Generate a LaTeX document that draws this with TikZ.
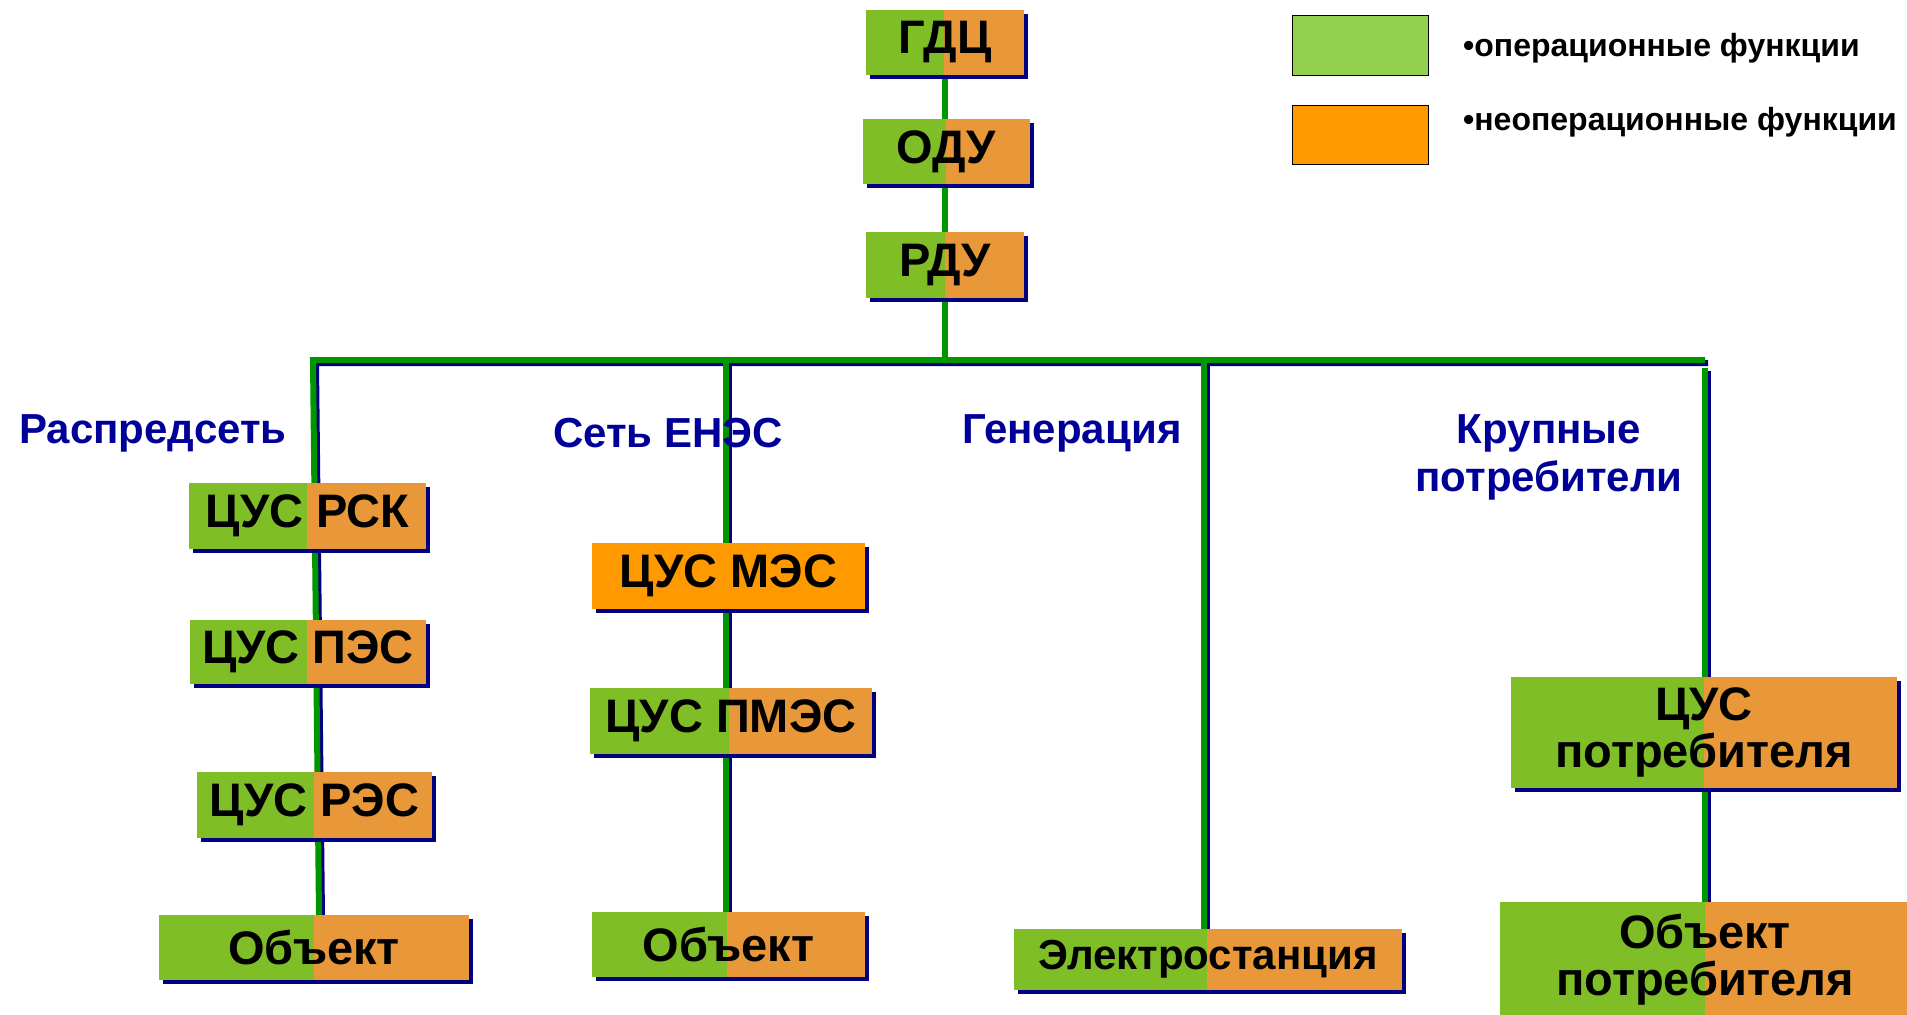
\documentclass[tikz,border=0pt]{standalone}
\usepackage{fontspec}
\setmainfont{Liberation Sans}
\usetikzlibrary{shadows}
\definecolor{bgreen}{RGB}{128,190,40}
\definecolor{borange}{RGB}{232,152,56}
\definecolor{morange}{RGB}{255,153,0}
\definecolor{lgreen}{RGB}{146,208,80}
\definecolor{lineg}{RGB}{0,150,0}
\definecolor{navy}{RGB}{0,0,128}
\definecolor{lblue}{RGB}{0,0,153}
\pgfdeclarelayer{bg}
\pgfsetlayers{bg,main}
\tikzset{
  box/.style={fill=borange, inner sep=0pt, align=center,
    font=\fontsize{47}{47}\selectfont\bfseries,
    drop shadow={shadow xshift=3.5pt, shadow yshift=-3.5pt, fill=navy, opacity=1}},
  gsplit/.style={path picture={\fill[bgreen] (path picture bounding box.north west) rectangle ([xshift=#1]path picture bounding box.south west);}},
  plainconn/.style={line width=6pt, draw=lineg},
  conn/.style={line width=6pt, draw=lineg, line join=miter,
    preaction={draw=navy, line width=6pt, transform canvas={xshift=3pt, yshift=-3pt}}},
  lbl/.style={text=lblue, font=\fontsize{42}{48}\selectfont\bfseries, align=center, inner sep=0pt},
  legbox/.style={draw=black, line width=1pt, inner sep=0pt, minimum width=136pt},
  legtxt/.style={anchor=west, inner sep=0pt, font=\fontsize{32}{36}\selectfont\bfseries}
}
\begin{document}
\begin{tikzpicture}[x=1pt, y=-1pt]
\useasboundingbox (0,0) rectangle (1907,1015);
\clip (0,0) rectangle (1907,1015);

% top chain
\node[box, gsplit=78pt, minimum width=158pt, minimum height=65pt] (gdc) at (945,42.5) {ГДЦ};
\node[box, gsplit=83pt, minimum width=167pt, minimum height=65pt] (odu) at (946.5,151.5) {ОДУ};
\node[box, gsplit=79pt, minimum width=158pt, minimum height=66pt] (rdu) at (945,265) {РДУ};

% left column
\node[box, gsplit=118pt, minimum width=237pt, minimum height=66pt] (rsk) at (307.5,516) {ЦУС РСК};
\node[box, gsplit=117pt, minimum width=236pt, minimum height=64pt] (pes) at (308,652) {ЦУС ПЭС};
\node[box, gsplit=117pt, minimum width=235pt, minimum height=66pt] (res) at (314.5,805) {ЦУС РЭС};
\node[box, gsplit=155pt, minimum width=310pt, minimum height=65pt] (obj1) at (314,947.5) {Объект};

% middle column
\node[box, fill=morange, minimum width=273pt, minimum height=66pt] (mes) at (728.5,576) {ЦУС МЭС};
\node[box, gsplit=139pt, minimum width=282pt, minimum height=66pt] (pmes) at (731,721) {ЦУС ПМЭС};
\node[box, gsplit=135pt, minimum width=273pt, minimum height=65pt] (obj2) at (728.5,944.5) {Объект};

% generation
\node[box, gsplit=193pt, minimum width=388pt, minimum height=61pt, font=\fontsize{42}{44}\selectfont\bfseries] (elst) at (1208,959.5) {Электростанция};

% consumers
\node[box, gsplit=193pt, minimum width=386pt, minimum height=111pt] (cusp) at (1704,732.5) {ЦУС\\потребителя};
\node[box, gsplit=205pt, minimum width=410pt, minimum height=116pt] (objp) at (1705,960) {Объект\\потребителя};

% bus coordinates
\coordinate (busL) at (313,360);
\coordinate (busR) at (1705,360);
\coordinate (busC) at (945,360);
\coordinate (busM) at (726,360);
\coordinate (busG) at (1204,360);
\coordinate (leftEnd) at (319,915);
\coordinate (rightTop) at (1705,368);

\begin{pgfonlayer}{bg}
\draw[plainconn] (gdc.south) -- (odu.south -| gdc.south);
\draw[plainconn] (odu.south -| gdc.south) -- (rdu.north);
\draw[plainconn] (rdu.south) -- (busC);
\draw[conn] (leftEnd) -- (busL) -- (busR);
\draw[conn] (rightTop) -- (objp.north -| rightTop);
\draw[conn] (busM) -- (obj2.north -| busM);
\draw[conn] (busG) -- (elst.north -| busG);
\end{pgfonlayer}

% branch labels
\node[lbl] (lab1) at (153,433) {Распредсеть};
\node[lbl] (lab2) at (668,433) {Сеть ЕНЭС};
\node[lbl] (lab3) at (1072,433) {Генерация};
\node[lbl] (lab4) at (1549,457) {Крупные\\потребители};

% legend
\node[legbox, fill=lgreen, minimum height=60pt] (lg) at (1360,45) {};
\node[legbox, fill=morange, minimum height=59pt] (lo) at (1360,134.5) {};
\node[legtxt] (lgt) at (1463,48) {•операционные функции};
\node[legtxt] (lot) at (1463,122) {•неоперационные функции};
\end{tikzpicture}
\end{document}
